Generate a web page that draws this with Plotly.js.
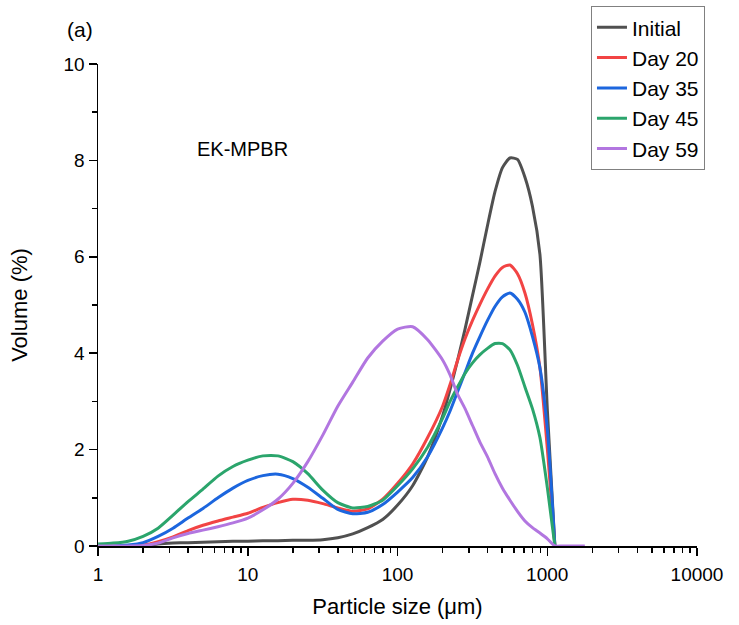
<!DOCTYPE html>
<html>
<head>
<meta charset="utf-8">
<script src="https://cdn.plot.ly/plotly-3.0.1.min.js"></script>
<style>html,body{margin:0;padding:0;background:#fff;}#chart{width:739px;height:625px;}</style>
</head>
<body>
<div id="chart"></div>
<script>
// Particle size bins (µm)
const sizes = [1.002, 1.262, 1.589, 2.000, 2.518, 3.170, 3.991, 5.024, 6.325, 7.962,
  10.02, 12.62, 15.89, 20.00, 25.18, 31.70, 39.91, 50.24, 63.25, 79.62,
  100.2, 126.2, 158.9, 200.0, 224.4, 251.8, 282.5, 317.0, 355.7, 399.1,
  447.7, 502.4, 563.7, 632.5, 709.6, 796.2, 893.4, 1002.4, 1124.7, 1261.9,
  1415.9, 1588.7, 1782.5];

const initial = [null, null, null, 0, 0.04, 0.06, 0.07, 0.08, 0.09, 0.10,
  0.10, 0.11, 0.11, 0.12, 0.12, 0.13, 0.17, 0.25, 0.38, 0.55,
  0.85, 1.25, 1.85, 2.70, 3.25, 3.85, 4.50, 5.20, 5.90, 6.65,
  7.35, 7.85, 8.05, 8.02, 7.65, 7.05, 6.05, 2.80, 0, null,
  null, null, null];

const day20 = [0, 0, 0, 0.02, 0.09, 0.19, 0.32, 0.43, 0.52, 0.60,
  0.68, 0.80, 0.90, 0.97, 0.95, 0.88, 0.79, 0.72, 0.77, 0.97,
  1.30, 1.70, 2.25, 2.90, 3.35, 3.85, 4.30, 4.68, 5.02, 5.33,
  5.60, 5.78, 5.83, 5.65, 5.25, 4.60, 3.70, 2.00, 0, null,
  null, null, null];

const day35 = [0, 0, 0.02, 0.07, 0.20, 0.37, 0.58, 0.78, 1.00, 1.20,
  1.36, 1.46, 1.49, 1.40, 1.22, 0.99, 0.76, 0.67, 0.70, 0.86,
  1.12, 1.42, 1.85, 2.45, 2.80, 3.20, 3.60, 4.00, 4.35, 4.68,
  4.97, 5.17, 5.25, 5.12, 4.85, 4.35, 3.70, 2.40, 0, null,
  null, null, null];

const day45 = [0.04, 0.06, 0.10, 0.20, 0.37, 0.64, 0.92, 1.18, 1.45, 1.65,
  1.78, 1.87, 1.87, 1.75, 1.50, 1.16, 0.90, 0.79, 0.82, 0.95,
  1.25, 1.60, 2.05, 2.65, 3.00, 3.30, 3.58, 3.80, 3.97, 4.10,
  4.20, 4.20, 4.07, 3.75, 3.30, 2.85, 2.25, 1.20, 0, null,
  null, null, null];

const day59 = [0, 0, 0, 0.01, 0.06, 0.17, 0.26, 0.33, 0.40, 0.48,
  0.58, 0.75, 0.97, 1.30, 1.75, 2.30, 2.90, 3.40, 3.90, 4.25,
  4.50, 4.55, 4.28, 3.86, 3.55, 3.15, 2.85, 2.50, 2.15, 1.85,
  1.50, 1.20, 0.95, 0.72, 0.52, 0.38, 0.27, 0.15, 0, 0,
  0, 0, 0];

const seriesNames = ["Initial", "Day 20", "Day 35", "Day 45", "Day 59"];
const seriesData = [initial, day20, day35, day45, day59];
const seriesColors = ["#505050", "#f24444", "#1c66de", "#2ba56c", "#b276e0"];

const xTickVals = [1, 10, 100, 1000, 10000];
const xTickText = ["1", "10", "100", "1000", "10000"];
const xMinorVals = [];
[1, 10, 100, 1000].forEach(d => { for (let m = 2; m <= 9; m++) xMinorVals.push(d * m); });

const font = "Arial, 'Liberation Sans', sans-serif";

const traces = seriesNames.map((n, i) => ({
  type: "scatter", mode: "lines", name: n,
  x: sizes, y: seriesData[i],
  line: {color: seriesColors[i], width: 3, shape: "spline", smoothing: 0.6},
  connectgaps: false
}));

const layout = {
  width: 739, height: 625,
  margin: {l: 98, r: 42, t: 64, b: 79, autoexpand: false},
  paper_bgcolor: "#fff", plot_bgcolor: "#fff",
  font: {family: font, color: "#000", size: 19},
  showlegend: true,
  legend: {
    x: 0.823, y: 1.12, xanchor: "left", yanchor: "top",
    bgcolor: "#fff", bordercolor: "#808080", borderwidth: 1,
    font: {family: font, size: 21, color: "#000"}
  },
  xaxis: {
    type: "log", range: [0, 4],
    tickvals: xTickVals, ticktext: xTickText,
    ticks: "outside", ticklen: 8, tickwidth: 1.5, tickcolor: "#000",
    minor: {tickvals: xMinorVals, ticks: "outside", ticklen: 5, tickwidth: 1.5, tickcolor: "#000", showgrid: false},
    showline: true, linecolor: "#000", linewidth: 1.5,
    showgrid: false, zeroline: false,
    ticklabelstandoff: 3,
    tickfont: {family: font, size: 19},
    title: {text: "Particle size (μm)", font: {family: font, size: 22}, standoff: 14}
  },
  yaxis: {
    range: [0, 10], dtick: 2, tick0: 0,
    ticks: "outside", ticklen: 8, tickwidth: 1.5, tickcolor: "#000",
    minor: {dtick: 1, ticks: "outside", ticklen: 5, tickwidth: 1.5, tickcolor: "#000", showgrid: false},
    showline: true, linecolor: "#000", linewidth: 1.5,
    showgrid: false, zeroline: false,
    tickfont: {family: font, size: 19},
    title: {text: "Volume (%)", font: {family: font, size: 22}, standoff: 30}
  },
  annotations: [
    {text: "EK-MPBR", xref: "paper", yref: "paper", x: 0.162, y: 0.824,
     xanchor: "left", yanchor: "middle", showarrow: false, font: {family: font, size: 20}},
    {text: "(a)", xref: "paper", yref: "paper", x: -0.055, y: 1.072,
     xanchor: "left", yanchor: "middle", showarrow: false, font: {family: font, size: 21}}
  ]
};

Plotly.newPlot("chart", traces, layout, {displayModeBar: false, staticPlot: true});
</script>
</body>
</html>
